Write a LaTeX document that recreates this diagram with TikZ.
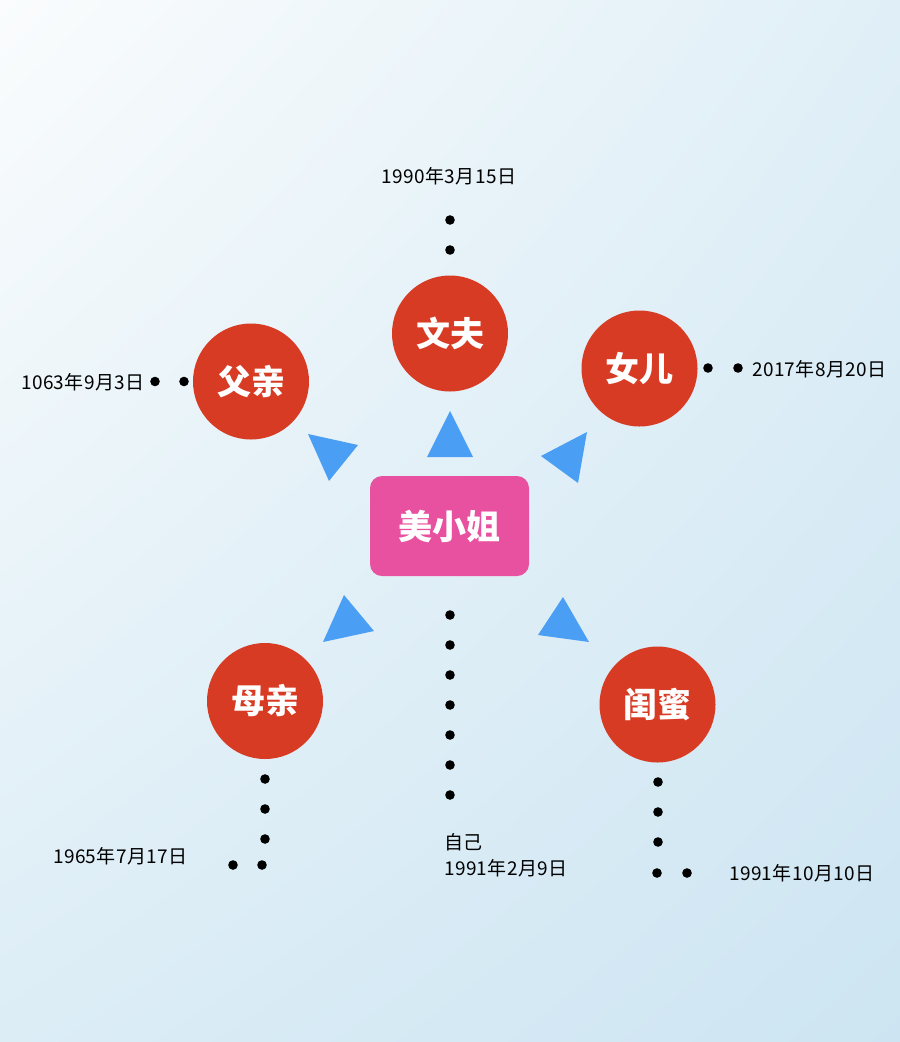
\documentclass[tikz,border=0pt]{standalone}
\usepackage{fontspec}
\usetikzlibrary{shadings}
\setmainfont{Noto Sans CJK SC}
\definecolor{redc}{HTML}{D83B24}
\definecolor{pinkc}{HTML}{E8519F}
\definecolor{bluec}{HTML}{4A9FF5}
\definecolor{bgul}{RGB}{250,252,253}
\definecolor{bgur}{RGB}{224,239,247}
\definecolor{bgll}{RGB}{220,237,246}
\definecolor{bglr}{RGB}{205,229,242}
\begin{document}
\begin{tikzpicture}[x=1pt,y=-1pt]
\useasboundingbox (0,0) rectangle (900,1042);
\shade[upper left=bgul, upper right=bgur, lower left=bgll, lower right=bglr]
  (0,0) rectangle (900,1042);
\tikzset{
  person/.style={circle, fill=redc, minimum size=116pt, inner sep=0pt, text=white,
                 font=\fontsize{34}{34}\selectfont\bfseries},
  datelbl/.style={font=\fontsize{19}{26}\selectfont\addfontfeature{LetterSpace=2}, text=black, inner sep=0pt},
  tri/.style={fill=bluec},
  dotc/.style={fill=black}
}
% people
\node[person] (fuqin) at (251,381.5) {父亲};
\node[person] (zhangfu) at (450,333.5) {文夫};
\node[person] (nver) at (639.5,368.5) {女儿};
\node[person] (muqin) at (265,701) {母亲};
\node[person] (guimi) at (657.5,704.5) {闺蜜};
\node[rounded corners=12pt, fill=pinkc, minimum width=159pt, minimum height=100pt, inner sep=0pt,
      text=white, font=\fontsize{34}{34}\selectfont\bfseries] (me) at (449.5,526) {美小姐};
% triangles
\fill[tri] (308,434) -- (358,445) -- (329,481) -- cycle;
\fill[tri] (450,411) -- (473,457) -- (427,457) -- cycle;
\fill[tri] (587,432) -- (541,456) -- (578,483) -- cycle;
\fill[tri] (344,595) -- (374,631) -- (323,642) -- cycle;
\fill[tri] (563,597) -- (589,642) -- (538,635) -- cycle;
% dots
\foreach \p in {(450,220),(450,250),(155,381.5),(184,381.5),(708,368),(738,368),
  (265,779),(265,809),(265,839),(262,865),(233,865),
  (450,615),(450,645),(450,675),(450,705),(450,735),(450,765),(450,795),
  (658,782),(658,812),(658,842),(657,873),(687,873)}
  \fill[dotc] \p circle (4.8);
% labels
\node[datelbl] (d1) at (449,176) {1990年3月15日};
\node[datelbl, anchor=west] (d2) at (21,382) {1063年9月3日};
\node[datelbl, anchor=west] (d3) at (752,369) {2017年8月20日};
\node[datelbl, anchor=west] (d4) at (53,856) {1965年7月17日};
\node[datelbl, anchor=north west, align=left] (d5) at (444,833) {自己\\1991年2月9日};
\node[datelbl, anchor=west] (d6) at (729,873) {1991年10月10日};
\end{tikzpicture}
\end{document}
